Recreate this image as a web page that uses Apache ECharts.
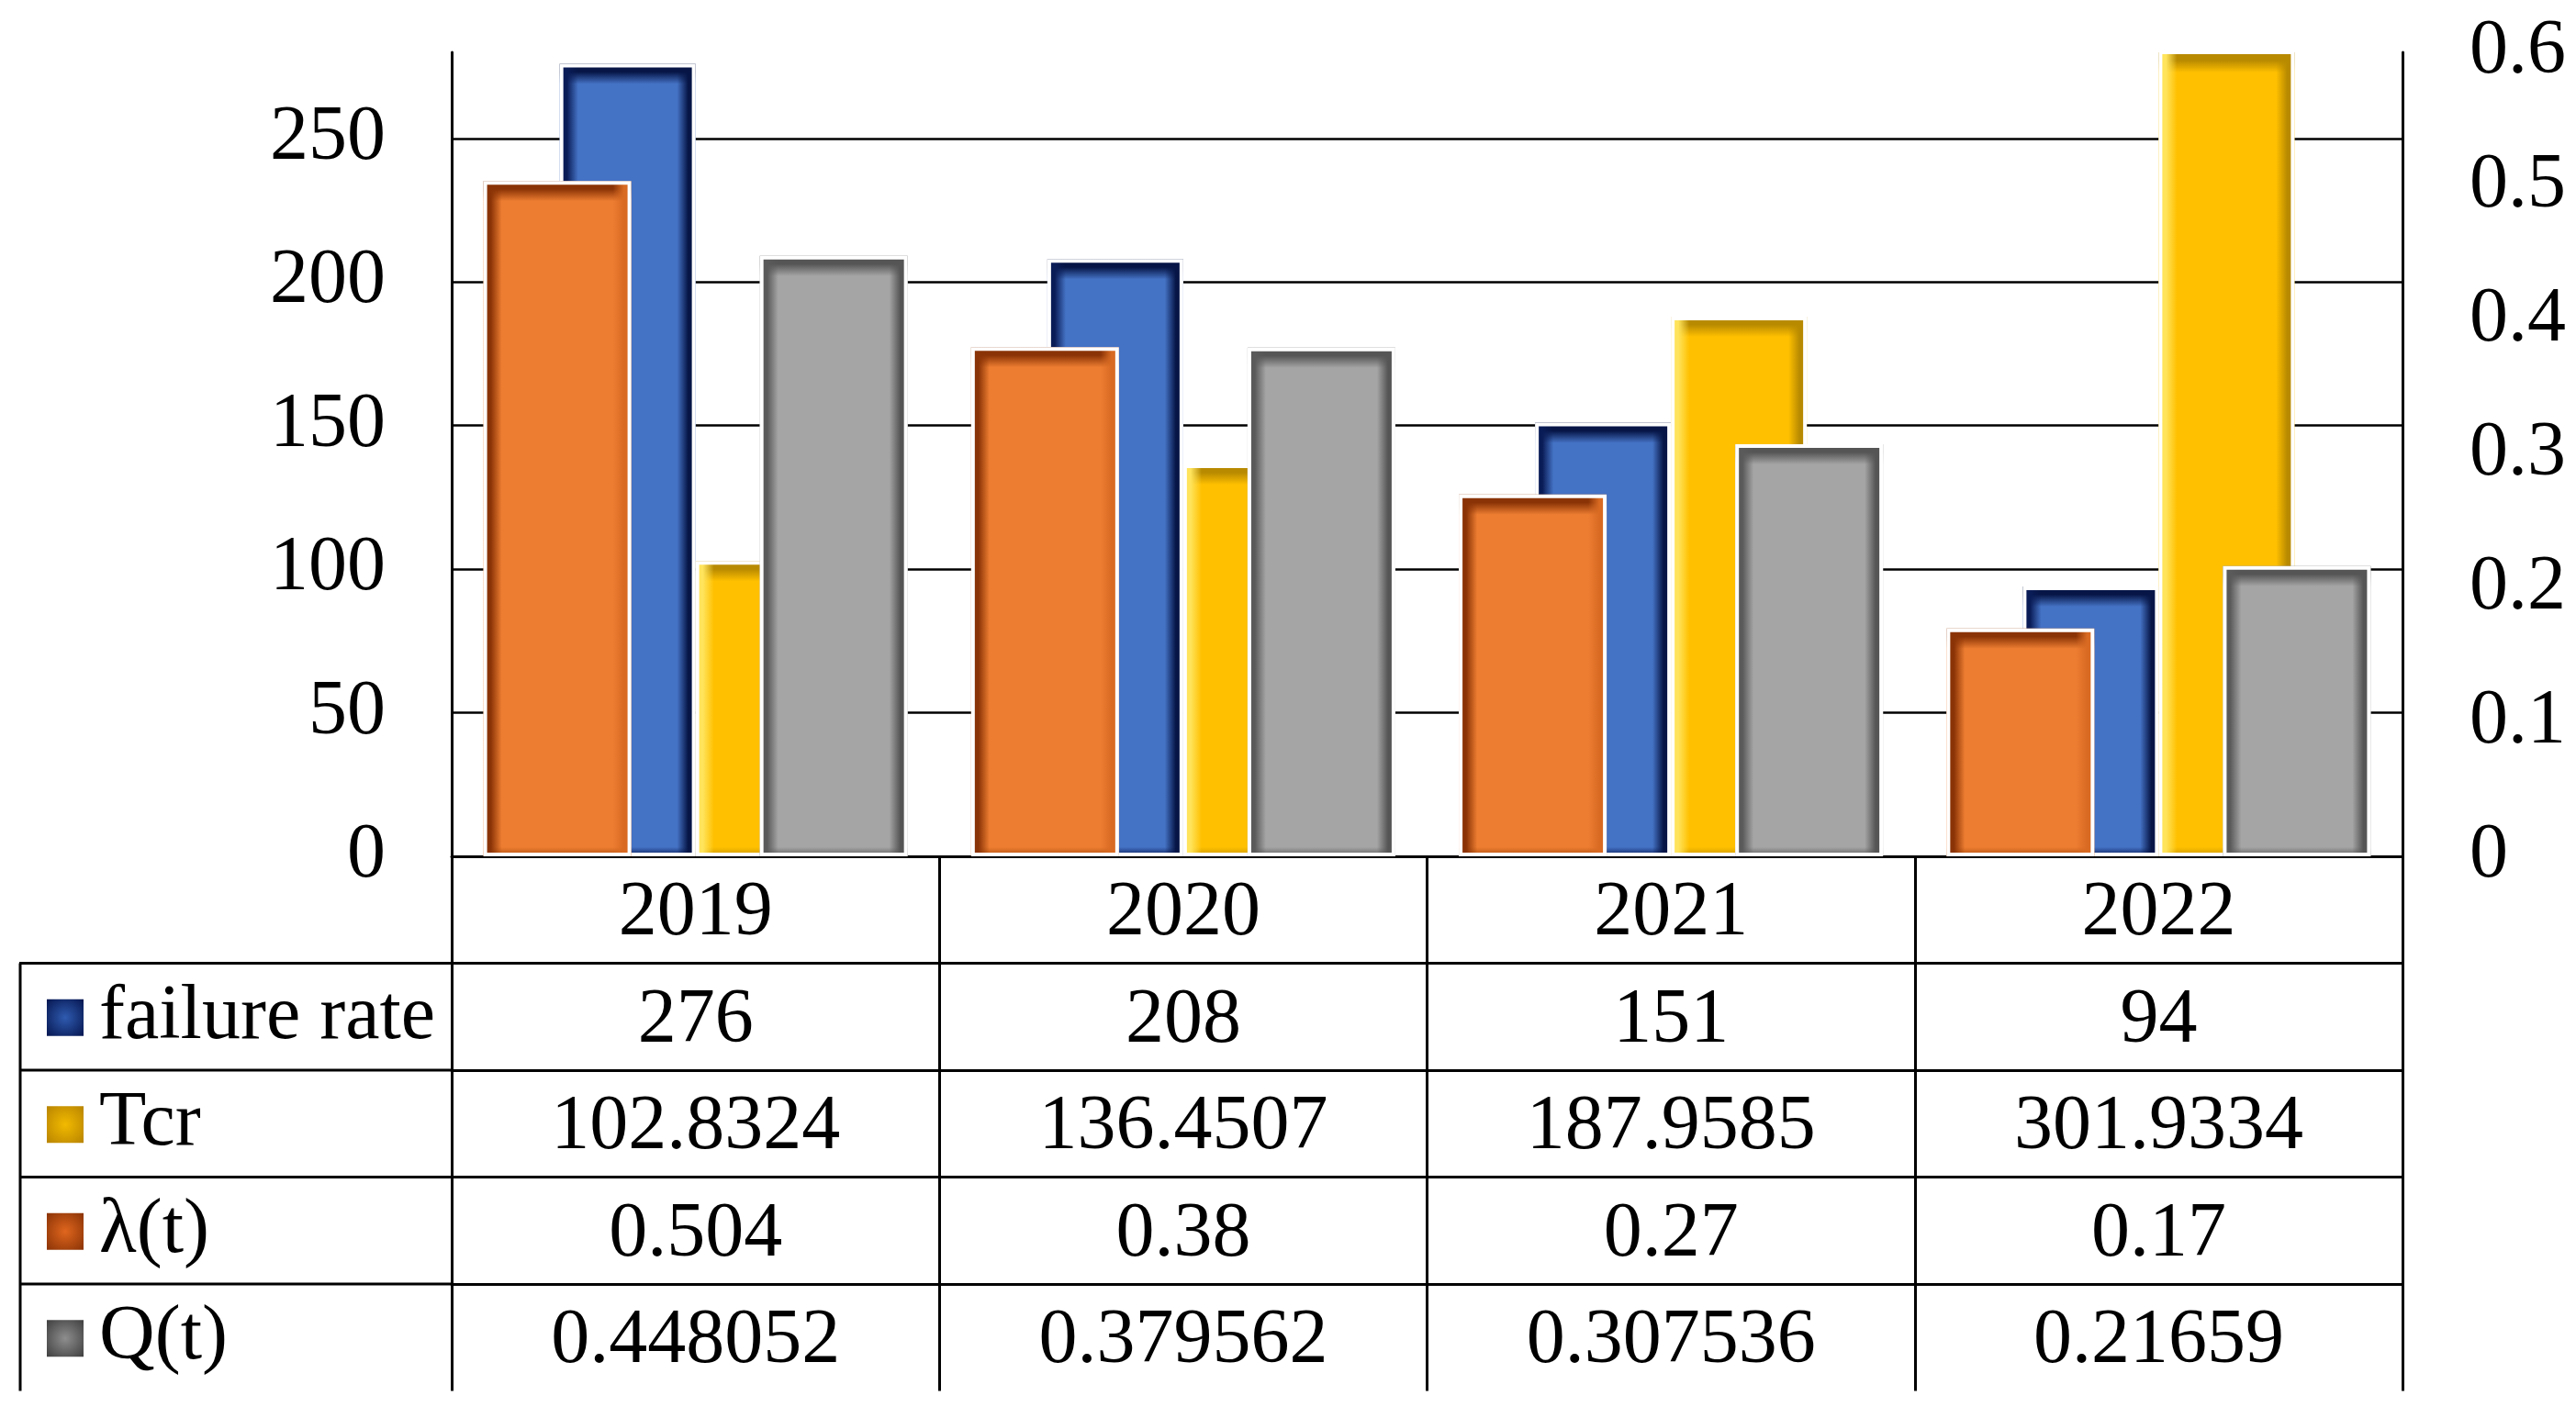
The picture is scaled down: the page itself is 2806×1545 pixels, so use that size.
<!DOCTYPE html>
<html>
<head>
<meta charset="utf-8">
<script src="https://cdn.jsdelivr.net/npm/echarts@6/dist/echarts.min.js"></script>
<style>
html,body{margin:0;padding:0;background:#fff;}
#chart{width:2806px;height:1545px;}
</style>
</head>
<body>
<div id="chart"></div>
<script>
// ---- data ----
const categories = ['2019', '2020', '2021', '2022'];
const failureRate = [276, 208, 151, 94];
const tcr = [102.8324, 136.4507, 187.9585, 301.9334];
const lambda = [0.504, 0.38, 0.27, 0.17];
const qt = [0.448052, 0.379562, 0.307536, 0.21659];
const seriesNames = ['failure rate', 'Tcr', 'λ(t)', 'Q(t)'];
const leftTicks = { min: 0, max: 280, interval: 50 };
const rightTicks = { min: 0, max: 0.6, interval: 0.1 };

// ---- layout / style ----
const FONT = 'Liberation Serif';
const FS = 84;
const GRID = { left: 492, right: 189, top: 57, bottom: 612 };
const PLOT_H = 1545 - GRID.top - GRID.bottom;
const ZERO_Y = 1545 - GRID.bottom;
const ROW = 116.5;
const LINE = '#000';

function rgba(hex, a) {
  const n = parseInt(hex.slice(1), 16);
  return 'rgba(' + ((n >> 16) & 255) + ',' + ((n >> 8) & 255) + ',' + (n & 255) + ',' + a + ')';
}
function vGrad(fill, top, bottom, h) {
  const a = Math.min(0.45, 22 / h), b = Math.min(0.45, 10 / h);
  return new echarts.graphic.LinearGradient(0, 0, 0, 1, [
    { offset: 0, color: top }, { offset: a * 0.4, color: top },
    { offset: a, color: fill }, { offset: 1 - b, color: fill },
    { offset: 1, color: bottom }
  ]);
}
function hGrad(left, right, w) {
  const a = 20 / w;
  return new echarts.graphic.LinearGradient(0, 0, 1, 0, [
    { offset: 0, color: left }, { offset: a * 0.4, color: left },
    { offset: a, color: rgba(left, 0) }, { offset: 1 - a, color: rgba(right, 0) },
    { offset: 1 - a * 0.4, color: right }, { offset: 1, color: right }
  ]);
}
function radial(fill, rim) {
  return new echarts.graphic.RadialGradient(0.5, 0.5, 0.7, [
    { offset: 0, color: fill }, { offset: 1, color: rim }
  ]);
}

const STY = {
  'failure rate': { fill: '#4472C4', top: '#061546', bottom: '#0A1C57', left: '#0A1C57', right: '#061546', key: ['#2F5BB0', '#061650'] },
  'Tcr': { fill: '#FFC000', top: '#B88A00', bottom: '#C99700', left: '#FFE45C', right: '#B88A00', key: ['#F2BA00', '#B88400'] },
  'λ(t)': { fill: '#ED7D31', top: '#8A3306', bottom: '#B0500F', left: '#8A3306', right: '#D86A22', key: ['#E0661E', '#8A3306'] },
  'Q(t)': { fill: '#A5A5A5', top: '#555555', bottom: '#5E5E5E', left: '#5A5A5A', right: '#555555', key: ['#8E8E8E', '#3F3F3F'] }
};

const PRI_W = 148, SEC_W = 161;

function baseData(name, values, axisMax) {
  const s = STY[name];
  return values.map(v => {
    const h = Math.max(1, Math.min(v, axisMax) / axisMax * PLOT_H);
    return { value: v, itemStyle: { color: vGrad(s.fill, s.top, s.bottom, h) } };
  });
}

function barSeries(name, values, xIdx, yIdx, axisMax, width, gap) {
  const s = STY[name];
  return {
    name: name, type: 'bar', xAxisIndex: xIdx, yAxisIndex: yIdx,
    barWidth: width, barGap: gap, clip: true,
    data: baseData(name, values, axisMax),
    itemStyle: { color: s.fill, borderWidth: 0 },
    emphasis: { disabled: true }
  };
}
function overlaySeries(name, values, xIdx, yIdx, width, gap) {
  const s = STY[name];
  return {
    name: name, type: 'bar', xAxisIndex: xIdx, yAxisIndex: yIdx,
    barWidth: width, barGap: gap, clip: true, silent: true,
    data: values.slice(),
    itemStyle: { color: hGrad(s.left, s.right, width), borderColor: '#ffffff', borderWidth: 4 },
    emphasis: { disabled: true }
  };
}

const tableRows = [failureRate, tcr, lambda, qt];
const LABEL_MARGIN = ROW / 2 + 5;

const xAxes = [];
// 0: primary bars + category row
xAxes.push({
  type: 'category', data: categories, gridIndex: 0, position: 'bottom',
  axisLine: { show: true, lineStyle: { color: LINE, width: 3 } },
  axisTick: { show: true, interval: 0, length: ROW, lineStyle: { color: LINE, width: 3 } },
  axisLabel: { interval: 0, margin: LABEL_MARGIN, verticalAlign: 'middle', fontFamily: FONT, fontSize: FS, color: '#000' },
  splitLine: { show: false }
});
// 1: secondary bars (hidden), 2: primary overlay, 3: secondary overlay
for (let i = 0; i < 3; i++) {
  xAxes.push({ type: 'category', data: categories, show: false, position: 'bottom' });
}
// 4..7: table rows
tableRows.forEach((row, k) => {
  xAxes.push({
    type: 'category', data: categories, position: 'bottom', offset: ROW * (k + 1),
    axisLine: { show: true, lineStyle: { color: LINE, width: 3 } },
    axisTick: { show: true, interval: 0, length: ROW, lineStyle: { color: LINE, width: 3 } },
    axisLabel: {
      interval: 0, margin: LABEL_MARGIN, verticalAlign: 'middle', fontFamily: FONT, fontSize: FS, color: '#000',
      formatter: (val, idx) => String(row[idx])
    },
    splitLine: { show: false }
  });
});

const series = [
  barSeries('failure rate', failureRate, 0, 0, leftTicks.max, PRI_W, '0%'),
  barSeries('Tcr', tcr, 0, 0, leftTicks.max, PRI_W, '0%'),
  overlaySeries('failure rate', failureRate, 2, 0, PRI_W, '0%'),
  overlaySeries('Tcr', tcr, 2, 0, PRI_W, '0%'),
  barSeries('λ(t)', lambda, 1, 1, rightTicks.max, SEC_W, '87%'),
  barSeries('Q(t)', qt, 1, 1, rightTicks.max, SEC_W, '87%'),
  overlaySeries('λ(t)', lambda, 3, 1, SEC_W, '87%'),
  overlaySeries('Q(t)', qt, 3, 1, SEC_W, '87%')
];

// table left column lines
const graphics = [];
for (let k = 1; k <= 4; k++) {
  const y = ZERO_Y + ROW * k;
  graphics.push({ type: 'line', shape: { x1: 21, y1: y, x2: GRID.left, y2: y }, style: { stroke: LINE, lineWidth: 3 }, silent: true });
}
graphics.push({ type: 'line', shape: { x1: 22, y1: ZERO_Y + ROW, x2: 22, y2: ZERO_Y + ROW * 5 }, style: { stroke: LINE, lineWidth: 3 }, silent: true });

// one legend per table row, so each key sits in its own row
const legends = seriesNames.map((n, k) => ({
  orient: 'horizontal', left: 51, top: ZERO_Y + ROW * (k + 1.5) - 41,
  itemWidth: 40, itemHeight: 40, icon: 'rect', selectedMode: false, padding: 0,
  textStyle: { fontFamily: FONT, fontSize: FS, color: '#000', padding: [0, 0, 0, 12] },
  data: [{ name: n, itemStyle: { color: radial(STY[n].key[0], STY[n].key[1]), borderWidth: 0 } }]
}));

const option = {
  backgroundColor: '#ffffff',
  animation: false,
  grid: { left: GRID.left, right: GRID.right, top: GRID.top, bottom: GRID.bottom, containLabel: false },
  legend: legends,
  xAxis: xAxes,
  yAxis: [
    {
      type: 'value', min: leftTicks.min, max: leftTicks.max, interval: leftTicks.interval,
      axisLine: { show: true, lineStyle: { color: LINE, width: 3 } },
      axisTick: { show: false },
      axisLabel: {
        margin: 72, fontFamily: FONT, fontSize: FS, color: '#000',
        formatter: v => (v % leftTicks.interval === 0 ? String(v) : '')
      },
      splitLine: { show: true, showMinLine: false, showMaxLine: false, lineStyle: { color: '#000', width: 2.5 } }
    },
    {
      type: 'value', min: rightTicks.min, max: rightTicks.max, interval: rightTicks.interval, position: 'right',
      axisLine: { show: true, lineStyle: { color: LINE, width: 3 } },
      axisTick: { show: false },
      axisLabel: { margin: 73, fontFamily: FONT, fontSize: FS, color: '#000',
        formatter: v => String(Math.round(v * 10) / 10) },
      splitLine: { show: false }
    }
  ],
  series: series,
  graphic: graphics
};

const chart = echarts.init(document.getElementById('chart'), null, { renderer: 'canvas', width: 2806, height: 1545 });
chart.setOption(option);
</script>
</body>
</html>
